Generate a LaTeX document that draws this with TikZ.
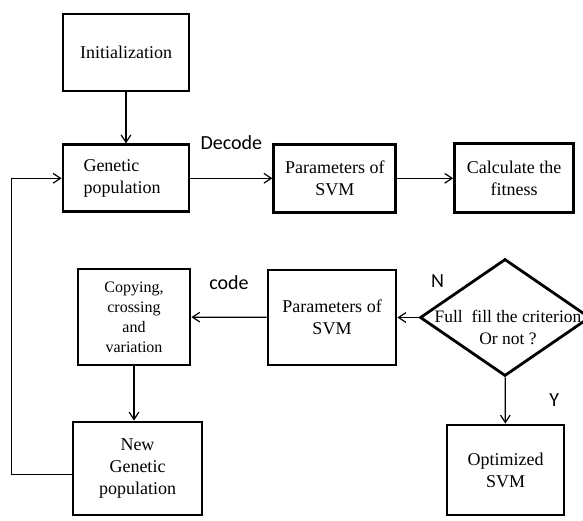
\documentclass[tikz,border=0pt]{standalone}
\usepackage{fontspec}
\setmainfont{Liberation Serif}
\newfontfamily\lblfont{Carlito}
\usetikzlibrary{arrows.meta,positioning,shapes.geometric}

\begin{document}
\begin{tikzpicture}[
    x=1pt,y=-1pt,
    gabox/.style={draw,line width=2.8pt,align=center,inner sep=2pt,font=\fontsize{18}{22}\selectfont},
    decide/.style={draw,diamond,line width=2.8pt,inner sep=0pt,minimum width=170pt,minimum height=117pt},
    arrow/.style={-{Straight Barb[length=2.6mm,width=3.4mm]},line width=1.2pt},
    flowlbl/.style={font=\lblfont\fontsize{20}{24}\selectfont,inner sep=0pt},
    node distance=51pt and 82pt
  ]
    \useasboundingbox (0,0) rectangle (583,520);
    % upper row
    \node[gabox,minimum width=126pt,minimum height=77pt] (init) at (126,52.5) {Initialization};
    \node[gabox,minimum width=126pt,minimum height=67pt,align=left,below=of init] (gen) {Genetic\\population\hspace*{8pt}};
    \node[gabox,minimum width=122pt,minimum height=68pt,right=of gen] (par1) {Parameters of\\SVM};
    \node[gabox,minimum width=119pt,minimum height=69pt,right=56pt of par1] (fit) {Calculate the\\fitness};
    % lower part
    \node[decide,label={[font=\fontsize{17.5}{22}\selectfont,align=center,yshift=-10pt,xshift=3pt]center:Full\ \ fill the criterion\\Or not ?}] (crit) at (505,317.5) {};
    \node[gabox,minimum width=128pt,minimum height=95pt] (par2) at (332,317.5) {Parameters of\\SVM};
    \node[gabox,minimum width=112pt,minimum height=96pt,font=\fontsize{16}{20}\selectfont] (copy) at (134,317) {Copying,\\crossing\\and\\variation};
    \node[gabox,minimum width=129pt,minimum height=93pt] (newgen) at (137.5,468.5) {New\\Genetic\\population};
    \node[gabox,minimum width=117pt,minimum height=90pt] (opt) at (505.5,470) {Optimized\\SVM};
    % connectors
    \draw[arrow] (init) -- (gen);
    \draw[arrow] (gen) -- node[flowlbl,midway,yshift=36pt] {Decode} (par1);
    \draw[arrow] (par1) -- (fit);
    \draw[arrow] (crit) -- node[flowlbl,pos=0,xshift=19pt,yshift=36pt] {N} (par2);
    \draw[arrow] (par2) -- node[flowlbl,midway,yshift=35pt] {code} (copy);
    \draw[arrow] (crit) -- node[flowlbl,midway,xshift=49pt] {Y} (opt);
    \draw[arrow] (copy.south) -- (copy.south |- newgen.north);
    \draw[arrow] ([yshift=-6pt]newgen.west) -- ++(-60,0) |- (gen.west);
\end{tikzpicture}
\end{document}
